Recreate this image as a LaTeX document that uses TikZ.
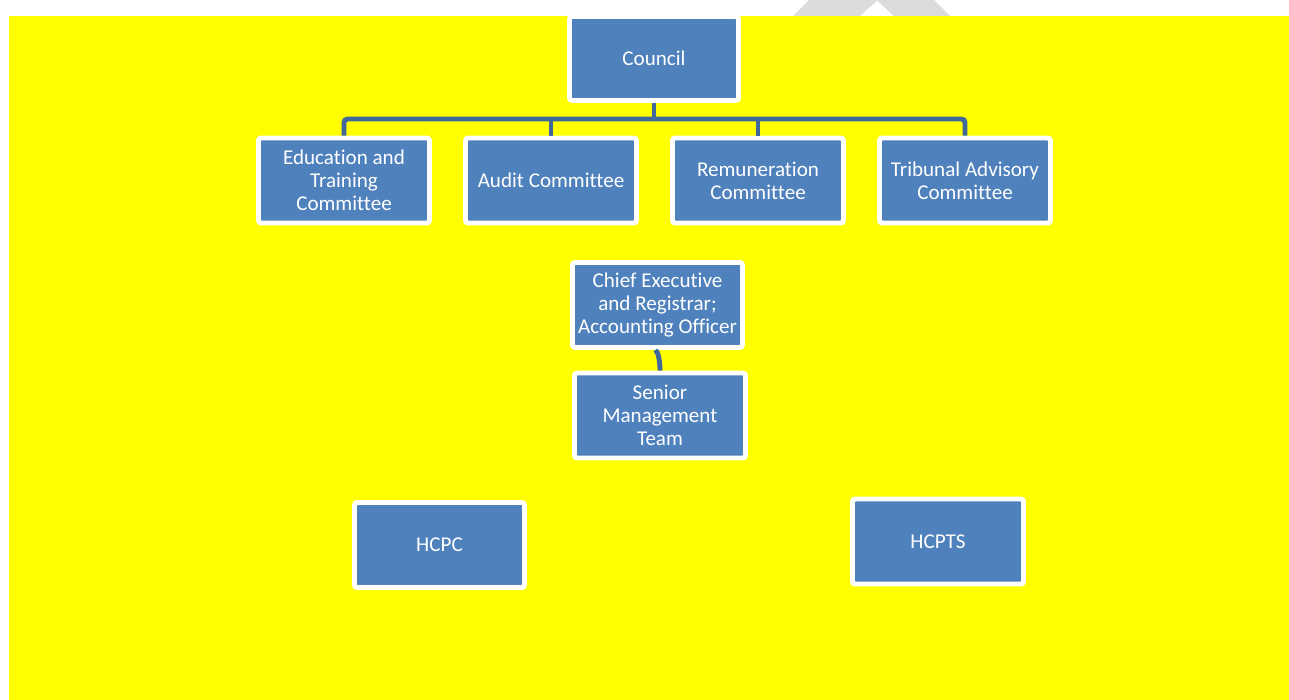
\documentclass[tikz,border=0pt]{standalone}
\usepackage{fontspec}
\setmainfont[Ligatures=NoCommon]{Carlito}
\usepackage{tikz}
\usetikzlibrary{positioning,calc}

\definecolor{boxblue}{HTML}{4F81BD}
\definecolor{linkblue}{HTML}{41689A}
\definecolor{markgrey}{HTML}{DCDCDC}
\definecolor{sheet}{HTML}{FFFF00}

\begin{document}
\begin{tikzpicture}[x=0.02cm, y=-0.02cm,
  unit/.style={rectangle, draw=white, fill=boxblue, line width=2.8pt,
    rounded corners=1.5pt, minimum width=3.42cm, minimum height=1.7cm,
    align=center, text=white, inner sep=1pt,
    font=\fontsize{12}{13.1}\selectfont},
  conn/.style={draw=linkblue, line width=2.8pt, rounded corners=2pt}
]
\useasboundingbox (0,0) rectangle (1289,700);
\fill[white] (0,0) rectangle (1289,700);
\fill[markgrey] (793,16) -- (809,0) -- (934,0) -- (950,16) -- (894,16)
  -- (877,0.5) -- (860,16) -- cycle;
\fill[sheet] (9,16) rectangle (1289,700);

\node[unit, minimum width=3.38cm, minimum height=1.68cm] (council) at (654,58.5) {Council};

\node[unit] (edu) at (344,180.5) {Education and\\Training\\Committee};
\node[unit] (audit) at (551,180.5) {Audit Committee};
\node[unit] (remun) at (758,180.5) {Remuneration\\Committee};
\node[unit] (trib) at (965,180.5) {Tribunal Advisory\\Committee};

\node[unit, minimum width=3.4cm] (chief) at (657.5,305) {Chief Executive\\and Registrar;\\Accounting Officer};
\node[unit] (senior) at (660,415.5) {Senior\\Management\\Team};

\node[unit, minimum width=3.4cm] (hcpc) at (439.5,545) {HCPC};
\node[unit] (hcpts) at (938,541.5) {HCPTS};

\coordinate (bus) at (0,119);
\draw[conn] (council.south) -- (council.south |- bus);
\draw[conn] (edu.north) |- (bus -| trib.north) -- (trib.north);
\draw[conn] (audit.north) -- (audit.north |- bus);
\draw[conn] (remun.north) -- (remun.north |- bus);

\draw[conn, rounded corners=0pt] ($(chief.south)+(-2,0)$) .. controls +(3,2) and +(0,-8) .. (senior.north);
\end{tikzpicture}
\end{document}
